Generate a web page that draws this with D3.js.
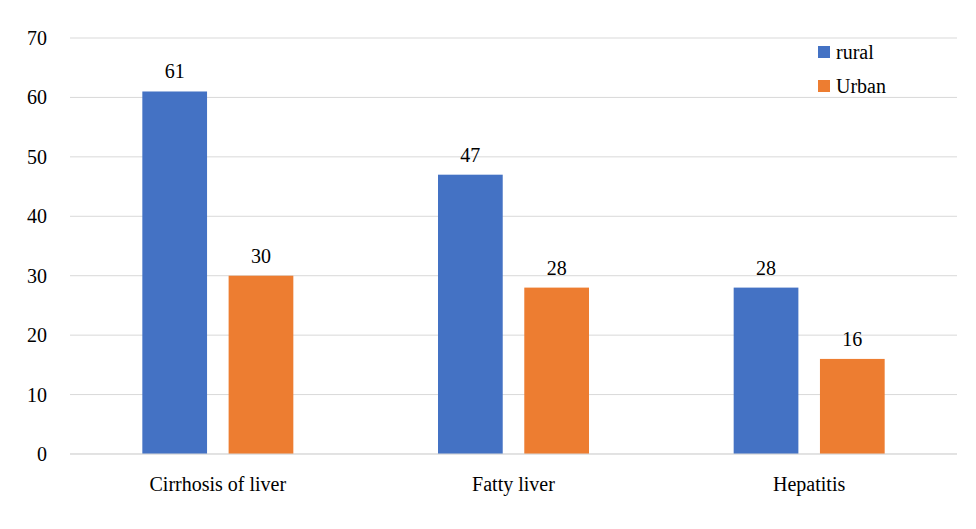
<!DOCTYPE html>
<html>
<head>
<meta charset="utf-8">
<script src="https://cdn.jsdelivr.net/npm/d3@7"></script>
<style>
  body { margin: 0; background: #fff; }
  text { font-family: "Liberation Serif", "Times New Roman", serif; fill: #000; }
</style>
</head>
<body>
<svg id="chart" width="976" height="529"></svg>
<script>
var categories = ["Cirrhosis of liver", "Fatty liver", "Hepatitis"];
var seriesNames = ["rural", "Urban"];
var rural = [61, 47, 28];
var urban = [30, 28, 16];
var yTicks = [0, 10, 20, 30, 40, 50, 60, 70];
var colors = ["#4472C4", "#ED7D31"];

var svg = d3.select("#chart");
var plotLeft = 70, plotRight = 957, plotTop = 38, plotBottom = 454;

var x = d3.scaleBand().domain(categories).range([plotLeft, plotRight]);
var y = d3.scaleLinear().domain([0, 70]).range([plotBottom, plotTop]);
var inner = d3.scaleBand().domain(seriesNames).range([0, 151]).paddingInner(0.25);

// gridlines
svg.selectAll(".grid").data(yTicks).enter().append("line")
  .attr("x1", plotLeft).attr("x2", plotRight)
  .attr("y1", function (d) { return y(d); }).attr("y2", function (d) { return y(d); })
  .attr("stroke", "#d9d9d9").attr("stroke-width", 1);

svg.selectAll(".ytick").data(yTicks).enter().append("text")
  .attr("x", 47).attr("y", function (d) { return y(d) + 7; })
  .attr("text-anchor", "end").attr("font-size", 20)
  .text(function (d) { return d; });

var data = [];
categories.forEach(function (c, i) {
  data.push({ cat: c, s: "rural", v: rural[i], col: colors[0] });
  data.push({ cat: c, s: "Urban", v: urban[i], col: colors[1] });
});

function bx(d) { return x(d.cat) + x.bandwidth() / 2 - 75.5 + inner(d.s); }

svg.selectAll(".bar").data(data).enter().append("rect")
  .attr("x", bx).attr("width", inner.bandwidth())
  .attr("y", function (d) { return y(d.v); })
  .attr("height", function (d) { return y(0) - y(d.v); })
  .attr("fill", function (d) { return d.col; });

svg.selectAll(".lbl").data(data).enter().append("text")
  .attr("x", function (d) { return bx(d) + inner.bandwidth() / 2; })
  .attr("y", function (d) { return y(d.v) - 13; })
  .attr("text-anchor", "middle").attr("font-size", 20)
  .text(function (d) { return d.v; });

svg.append("line").attr("x1", plotLeft).attr("x2", plotRight)
  .attr("y1", plotBottom).attr("y2", plotBottom).attr("stroke", "#d9d9d9");

svg.selectAll(".xl").data(categories).enter().append("text")
  .attr("x", function (d) { return x(d) + x.bandwidth() / 2; })
  .attr("y", 491).attr("text-anchor", "middle").attr("font-size", 20)
  .text(function (d) { return d; });

// legend
var leg = svg.selectAll(".leg").data(seriesNames).enter().append("g")
  .attr("transform", function (d, i) { return "translate(818," + (46 + i * 34) + ")"; });
leg.append("rect").attr("width", 12).attr("height", 12)
  .attr("fill", function (d, i) { return colors[i]; });
leg.append("text").attr("x", 18).attr("y", 13).attr("font-size", 20)
  .text(function (d) { return d; });
</script>
</body>
</html>
